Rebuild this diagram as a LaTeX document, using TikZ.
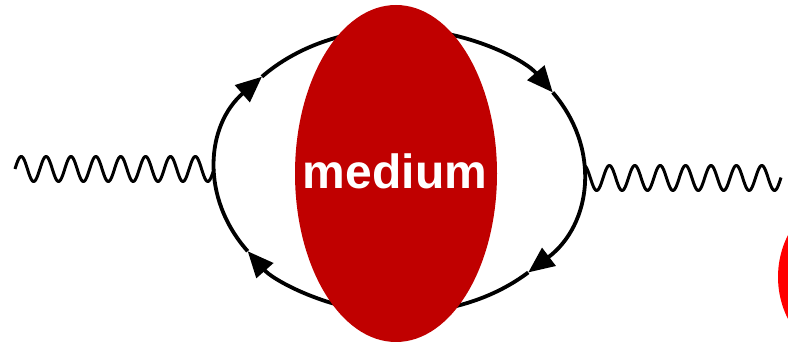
\documentclass[tikz,border=0pt]{standalone}
\usepackage{fontspec}
\setmainfont{Liberation Sans}
\usetikzlibrary{arrows.meta,calc,shapes.geometric}
\definecolor{medred}{RGB}{192,0,0}
\definecolor{brightred}{RGB}{255,0,0}
\tikzset{
  loopline/.style={line width=3.8pt, draw=black},
  arrowed/.style={loopline, -{Triangle[length=26pt, width=22pt]}},
  waveline/.style={line width=3pt, draw=black, line join=round},
  medium/.style={ellipse, fill=medred, minimum width=202pt, minimum height=337pt, inner sep=0pt},
}
\begin{document}
\begin{tikzpicture}[x=1pt,y=1pt]
\useasboundingbox (0,0) rectangle (788,347);
\clip (0,0) rectangle (788,347);
\fill[white] (0,0) rectangle (788,347);
% loop centre
\coordinate (c) at (399.5,176);
% fermion loop with four arrows (clockwise)
\draw[arrowed] ($(c)+(33.6:184 and 142)$) arc[start angle=33.6, end angle=-45.6, x radius=184, y radius=142];
\draw[arrowed] ($(c)+(-45.6:184 and 142)$) arc[start angle=-45.6, end angle=-145.6, x radius=184, y radius=142];
\draw[arrowed] ($(c)+(-145.6:184 and 142)$) arc[start angle=-145.6, end angle=-221.6, x radius=184, y radius=142];
\draw[arrowed] ($(c)+(138.4:184 and 142)$) arc[start angle=138.4, end angle=33.6, x radius=184, y radius=142];
% photon lines
\draw[waveline] plot[domain=0:199, samples=240, smooth] ({15+\x},{178+12.5*sin(14.4724*\x)});
\draw[waveline] plot[domain=0:197, samples=240, smooth] ({584+\x},{169+12.5*cos(14.1732*\x)});
% medium blob
\node[medium] (med) at (396,173.5) {};
\node[anchor=base, text=white, font=\bfseries\fontsize{48}{50}\selectfont, inner sep=0pt] (lab) at (395,158) {medium};
% partial red circle at right edge
\fill[brightred] (871,70) circle[radius=93];
\end{tikzpicture}
\end{document}
